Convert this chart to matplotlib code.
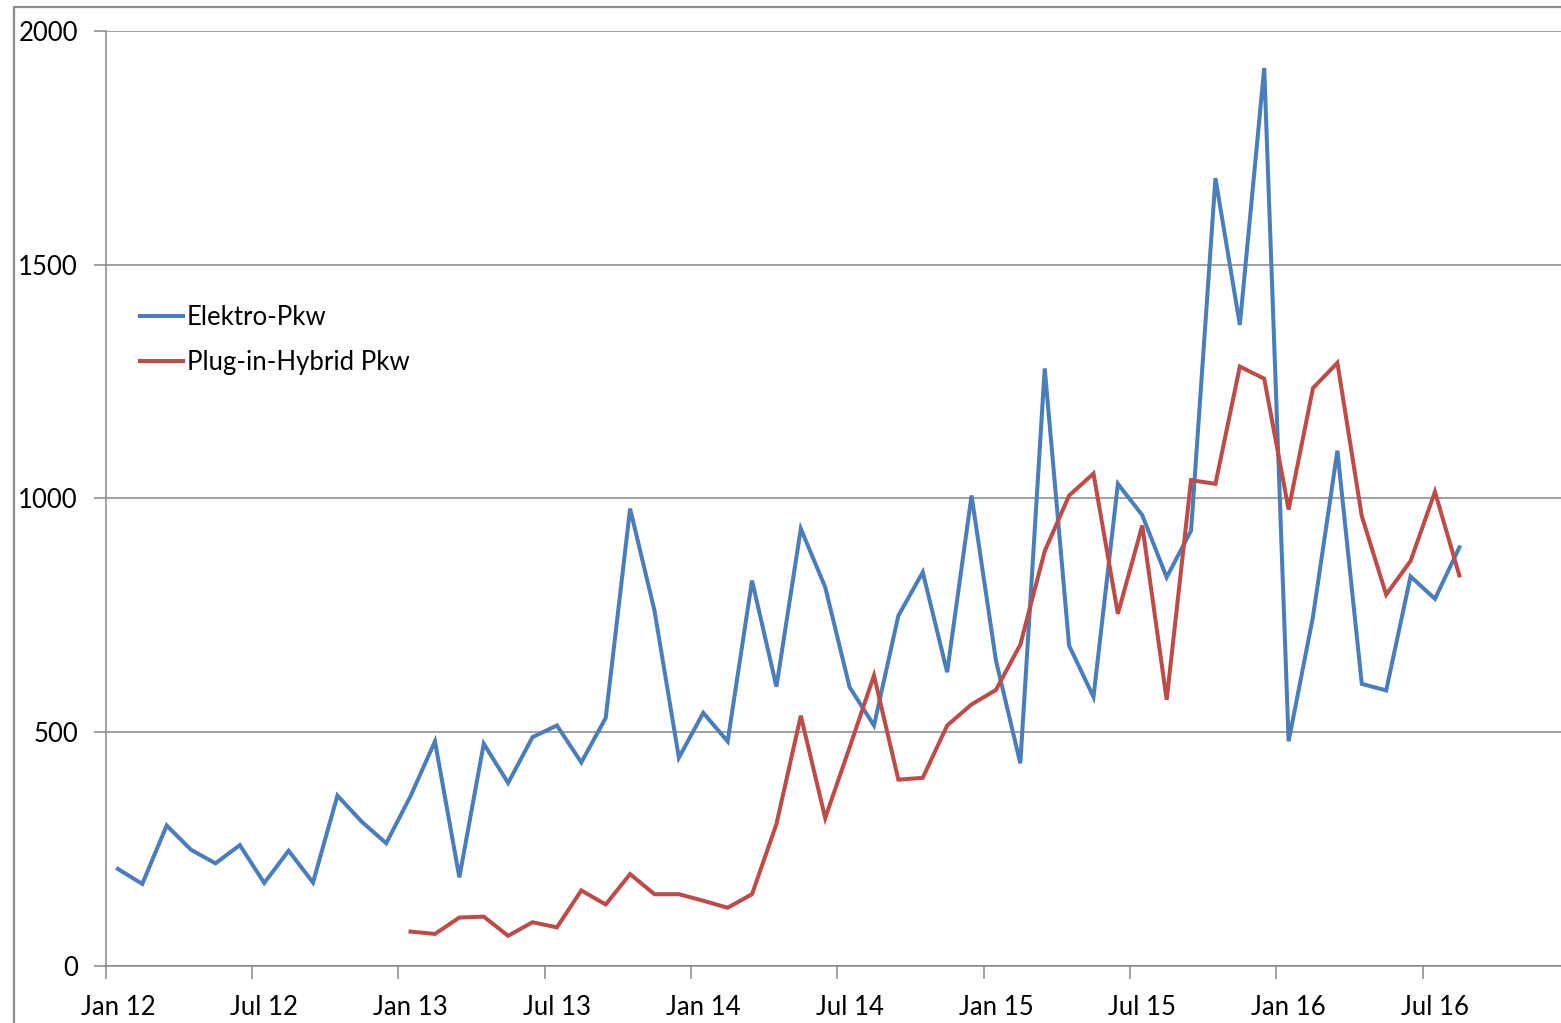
import matplotlib
matplotlib.use("Agg")
import matplotlib.pyplot as plt
from matplotlib.patches import Rectangle

plt.rcParams['font.family'] = ['Lato', 'DejaVu Sans']

# months Jan 12 .. Dec 16 (60 categories)
month_names = ['Jan', 'Feb', 'Mar', 'Apr', 'May', 'Jun',
               'Jul', 'Aug', 'Sep', 'Oct', 'Nov', 'Dec']
years = ['12', '13', '14', '15', '16']
categories = [m + ' ' + y for y in years for m in month_names]

tick_labels = ['Jan 12', 'Jul 12', 'Jan 13', 'Jul 13', 'Jan 14',
               'Jul 14', 'Jan 15', 'Jul 15', 'Jan 16', 'Jul 16']

# Elektro-Pkw, Jan 12 .. Aug 16
elektro = [207, 175, 300, 248, 219, 258, 177, 246, 178, 364, 308, 262,
           363, 480, 189, 475, 391, 489, 514, 435, 530, 978, 760, 445,
           541, 480, 824, 597, 935, 810, 596, 514, 749, 842, 628, 1006,
           653, 433, 1278, 685, 575, 1031, 964, 831, 931, 1685, 1371, 1921,
           480, 747, 1102, 603, 589, 833, 785, 895]

# Plug-in-Hybrid Pkw, Jan 13 .. Aug 16
hybrid_start = 'Jan 13'
hybrid = [73, 68, 103, 105, 64, 93, 82, 161, 131, 196, 153, 153,
          139, 124, 153, 303, 535, 316, 467, 621, 398, 402, 514, 559,
          590, 687, 887, 1006, 1053, 753, 942, 569, 1039, 1031, 1282, 1256,
          976, 1236, 1290, 962, 794, 866, 1014, 835]

BLUE = '#4A7EBB'
RED = '#BE4B48'
GRID = '#868686'
FS = 18.5

fig = plt.figure(figsize=(15.61, 10.23), dpi=100)
# the plot area runs a little past the right edge of the picture
ax = fig.add_axes([105.7 / 1561, 1 - 965.7 / 1023, 1463.4 / 1561, 934.7 / 1023])

x_el = list(range(len(elektro)))
h0 = categories.index(hybrid_start)
x_hy = list(range(h0, h0 + len(hybrid)))

ax.plot(x_el, elektro, color=BLUE, lw=2.9, label='Elektro-Pkw',
        solid_joinstyle='miter')
ax.plot(x_hy, hybrid, color=RED, lw=2.9, label='Plug-in-Hybrid Pkw',
        solid_joinstyle='miter')

ax.set_xlim(-0.5, len(categories) - 0.5)
ax.set_ylim(0, 2000)

# y axis
ax.set_yticks([0, 500, 1000, 1500, 2000])
ax.grid(axis='y', color=GRID, lw=1.1)
ax.set_axisbelow(True)
ax.tick_params(axis='y', length=9, width=1.1, color=GRID, pad=11,
               labelsize=FS, labelcolor='#000000')

# x axis: labels centred on categories, tick marks between them
label_pos = [categories.index(t) for t in tick_labels]
ax.set_xticks(label_pos)
ax.set_xticklabels(tick_labels)
ax.set_xticks([p - 0.5 for p in range(0, len(categories) + 1, 6)], minor=True)
ax.tick_params(axis='x', which='major', length=0, pad=21, labelsize=FS)
ax.tick_params(axis='x', which='minor', length=9, width=1.1, color=GRID)

for s in ['top', 'right']:
    ax.spines[s].set_visible(False)
for s in ['left', 'bottom']:
    ax.spines[s].set_color(GRID)
    ax.spines[s].set_linewidth(1.1)

ax.legend(loc='upper left', bbox_to_anchor=(0.0234, 0.707), frameon=False,
          fontsize=FS, handlelength=1.67, handletextpad=0.16,
          labelspacing=0.8, borderpad=0, borderaxespad=0)

# outer chart frame (partially visible)
fig.add_artist(Rectangle((14 / 1561, -0.2), 1.5, 1.2 - 7 / 1023,
                         transform=fig.transFigure, fill=False,
                         edgecolor='#8c8c8c', lw=1.6))

fig.savefig('out.png', dpi=100)
